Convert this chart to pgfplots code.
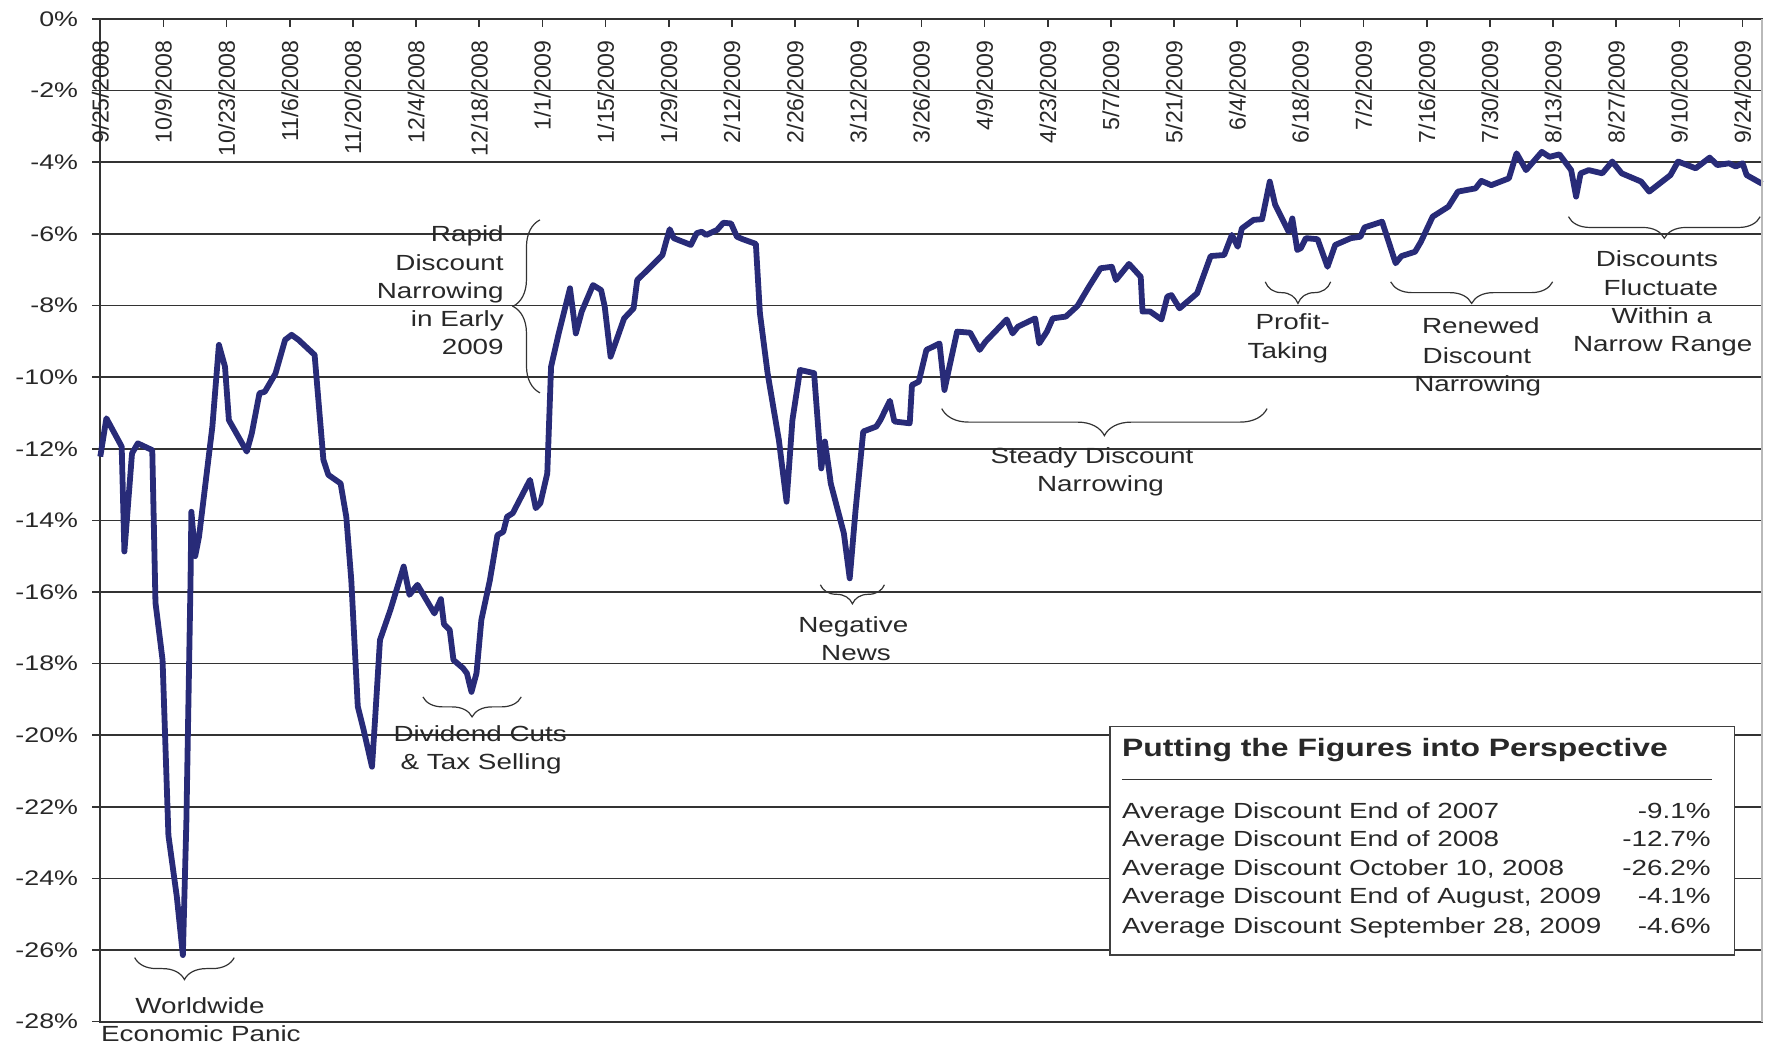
\documentclass[border=0pt]{standalone}
\usepackage{fontspec}
\setmainfont{Liberation Sans}[FakeStretch=1.27]
\newfontfamily\tickfont{Liberation Sans}
\usepackage{pgfplots}
\pgfplotsset{compat=1.18}
\usetikzlibrary{decorations.pathreplacing}
\definecolor{navy}{RGB}{40,43,120}
\definecolor{txt}{RGB}{40,40,40}
\newcommand\annfont{\fontsize{11}{13}\selectfont}
\begin{document}
\begin{tikzpicture}
\begin{axis}[
  width=830.85bp, height=501.35bp, scale only axis,
  xmin=0, xmax=368.3, ymin=-28, ymax=0,
  clip=false,
  axis line style={draw=black!80, line width=0.9bp},
  xtick={0,14,...,364},
  xticklabels={9/25/2008,10/9/2008,10/23/2008,11/6/2008,11/20/2008,12/4/2008,12/18/2008,1/1/2009,1/15/2009,1/29/2009,2/12/2009,2/26/2009,3/12/2009,3/26/2009,4/9/2009,4/23/2009,5/7/2009,5/21/2009,6/4/2009,6/18/2009,7/2/2009,7/16/2009,7/30/2009,8/13/2009,8/27/2009,9/10/2009,9/24/2009},
  xtick pos=right, xticklabel pos=right,
  xtick align=inside,
  ytick={-28,-26,...,0},
  yticklabels={-28\%,-26\%,-24\%,-22\%,-20\%,-18\%,-16\%,-14\%,-12\%,-10\%,-8\%,-6\%,-4\%,-2\%,0\%},
  ytick pos=left, ytick align=outside,
  major tick length=4bp,
  tick style={black!80, line width=0.8bp},
  ymajorgrids, grid style={black!80, line width=0.8bp},
  xticklabel style={font=\tickfont\fontsize{11.6}{13}\selectfont, text=txt, yshift=-10.5bp, rotate=90, anchor=east, inner sep=0pt},
  yticklabel style={font=\fontsize{10.6}{12}\selectfont, text=txt, inner sep=0pt, xshift=-6.9bp},
]
\addplot[color=navy, line width=2.9bp, line join=round, mark=none] coordinates {
(0,-12.22) (1.35,-11.15) (4.74,-11.94) (5.34,-14.87) (7.03,-12.13) (8.31,-11.85) (11.52,-12.04) (12.23,-16.3) (13.8,-17.9) (15.1,-22.8) (16.95,-24.5) (18.3,-26.14) (19.08,-22.4) (20.0,-15.7) (20.19,-13.76) (21.03,-15.0) (21.88,-14.46) (24.84,-11.38) (26.29,-9.1) (27.64,-9.71) (28.5,-11.2) (32.47,-12.08) (33.58,-11.57) (35.28,-10.45) (36.46,-10.41) (38.83,-9.9) (40.96,-8.96) (42.4,-8.82) (43.93,-8.96) (47.5,-9.38) (49.45,-12.31) (50.55,-12.73) (53.26,-12.97) (54.52,-13.9) (55.63,-15.67) (57.07,-19.2) (58.36,-19.85) (60.22,-20.88) (60.88,-19.6) (61.99,-17.34) (64.3,-16.5) (67.24,-15.29) (68.53,-16.08) (70.3,-15.8) (74.05,-16.6) (75.49,-16.2) (76.17,-16.9) (77.44,-17.06) (78.28,-17.9) (80.41,-18.13) (81.25,-18.27) (82.27,-18.79) (83.38,-18.27) (84.46,-16.78) (86.35,-15.67) (88.03,-14.41) (89.32,-14.32) (90.16,-13.9) (91.42,-13.8) (95.24,-12.87) (96.52,-13.66) (97.54,-13.52) (99.07,-12.69) (99.91,-9.71) (101.6,-8.78) (104.1,-7.52) (105.4,-8.78) (106.7,-8.17) (109.2,-7.43) (111.0,-7.57) (111.8,-8.03) (113.1,-9.43) (116.1,-8.36) (118.2,-8.08) (119.0,-7.29) (122.8,-6.82) (124.6,-6.59) (125.4,-6.22) (126.2,-5.87) (127.1,-6.12) (130.9,-6.31) (132.2,-5.98) (133.3,-5.94) (134.3,-6.03) (136.7,-5.89) (138.1,-5.69) (139.8,-5.71) (141.1,-6.08) (142.4,-6.15) (145.3,-6.28) (146.2,-8.22) (147.9,-9.89) (150.4,-11.76) (152.1,-13.48) (153.4,-11.2) (155.1,-9.8) (158.2,-9.89) (159.8,-12.55) (160.6,-11.8) (161.5,-12.59) (161.9,-12.97) (164.8,-14.36) (166.1,-15.62) (167.4,-13.71) (169.1,-11.52) (172.0,-11.38) (172.9,-11.2) (175.0,-10.66) (176.0,-11.24) (179.4,-11.29) (179.9,-10.22) (181.4,-10.13) (183.1,-9.24) (186.0,-9.06) (187.1,-10.36) (188.2,-9.71) (189.9,-8.73) (192.8,-8.76) (194.9,-9.24) (196.2,-9.01) (200.9,-8.39) (202.2,-8.78) (203.4,-8.59) (207.2,-8.36) (208.1,-9.06) (209.8,-8.73) (211.1,-8.36) (214.0,-8.31) (216.6,-8.01) (219.1,-7.48) (221.7,-6.96) (224.2,-6.92) (225.1,-7.29) (228.0,-6.84) (230.6,-7.2) (231.0,-8.17) (232.7,-8.17) (235.2,-8.39) (236.5,-7.75) (237.4,-7.71) (239.2,-8.08) (243.1,-7.66) (246.1,-6.62) (249.1,-6.59) (250.8,-6.03) (252.1,-6.36) (253.0,-5.85) (255.6,-5.61) (257.5,-5.59) (259.2,-4.54) (260.4,-5.19) (263.4,-5.94) (264.2,-5.57) (265.3,-6.45) (266.1,-6.4) (267.2,-6.12) (269.8,-6.15) (272.0,-6.92) (273.7,-6.31) (277.2,-6.12) (279.3,-6.08) (280.2,-5.82) (284.1,-5.66) (287.1,-6.82) (288.4,-6.62) (291.4,-6.5) (292.7,-6.22) (295.3,-5.52) (298.8,-5.24) (300.9,-4.82) (304.8,-4.73) (306.1,-4.52) (308.3,-4.64) (312.2,-4.45) (313.9,-3.75) (316.0,-4.22) (319.5,-3.71) (321.2,-3.85) (323.4,-3.78) (326.0,-4.22) (327.1,-4.96) (328.1,-4.31) (329.9,-4.22) (332.9,-4.31) (335.1,-3.98) (337.2,-4.31) (341.5,-4.54) (343.3,-4.82) (348.0,-4.36) (349.7,-3.98) (353.6,-4.17) (356.7,-3.87) (358.4,-4.08) (361.0,-4.03) (362.5,-4.12) (364.0,-4.03) (364.9,-4.36) (368.3,-4.6)
};
% right border
\draw[gray!55, line width=1.2bp] (rel axis cs:1,0) -- (rel axis cs:1,1);
% braces
\begin{scope}[black!80, line width=0.6bp]
\draw[decorate, decoration={brace, amplitude=13.5bp}] (axis cs:97.45,-10.44) -- (axis cs:97.45,-5.61);
\draw[decorate, decoration={brace, amplitude=11bp}] (axis cs:29.68,-26.21) -- (axis cs:7.62,-26.21);
\draw[decorate, decoration={brace, amplitude=10bp}] (axis cs:93.3,-18.93) -- (axis cs:71.5,-18.93);
\draw[decorate, decoration={brace, amplitude=9.5bp}] (axis cs:173.8,-15.8) -- (axis cs:159.6,-15.8);
\draw[decorate, decoration={brace, amplitude=13.5bp}] (axis cs:258.6,-10.88) -- (axis cs:186.5,-10.88);
\draw[decorate, decoration={brace, amplitude=10.8bp}] (axis cs:272.7,-7.34) -- (axis cs:258.2,-7.34);
\draw[decorate, decoration={brace, amplitude=10.8bp}] (axis cs:321.9,-7.34) -- (axis cs:286.0,-7.34);
\draw[decorate, decoration={brace, amplitude=10.8bp}] (axis cs:367.9,-5.52) -- (axis cs:325.4,-5.52);
\end{scope}
% annotation texts
\begin{scope}[every node/.style={font=\annfont, text=txt, inner sep=0pt}]
\node[anchor=base east] at (axis cs:89.5,-6.22) {Rapid};
\node[anchor=base east] at (axis cs:89.5,-7.01) {Discount};
\node[anchor=base east] at (axis cs:89.5,-7.80) {Narrowing};
\node[anchor=base east] at (axis cs:89.5,-8.59) {in Early};
\node[anchor=base east] at (axis cs:89.5,-9.38) {2009};
\node[anchor=base] at (axis cs:22.1,-27.76) {Worldwide};
\node[anchor=base] at (axis cs:22.3,-28.56) {Economic Panic};
\node[anchor=base] at (axis cs:84.2,-20.18) {Dividend Cuts};
\node[anchor=base] at (axis cs:84.4,-20.97) {\& Tax Selling};
\node[anchor=base] at (axis cs:166.9,-17.13) {Negative};
\node[anchor=base] at (axis cs:167.5,-17.92) {News};
\node[anchor=base] at (axis cs:219.8,-12.41) {Steady Discount};
\node[anchor=base] at (axis cs:221.7,-13.2) {Narrowing};
\node[anchor=base] at (axis cs:264.3,-8.68) {Profit-};
\node[anchor=base] at (axis cs:263.2,-9.48) {Taking};
\node[anchor=base] at (axis cs:306.0,-8.78) {Renewed};
\node[anchor=base] at (axis cs:305.1,-9.61) {Discount};
\node[anchor=base] at (axis cs:305.3,-10.41) {Narrowing};
\node[anchor=base] at (axis cs:345.0,-6.92) {Discounts};
\node[anchor=base] at (axis cs:345.9,-7.71) {Fluctuate};
\node[anchor=base] at (axis cs:346.1,-8.5) {Within a};
\node[anchor=base] at (axis cs:346.3,-9.29) {Narrow Range};
\end{scope}
% info box
\draw[fill=white, draw=black!75, line width=0.75bp] (axis cs:223.8,-19.76) rectangle (axis cs:362.2,-26.14);
\draw[black!80, line width=0.6bp] (axis cs:226.4,-21.23) -- (axis cs:357.2,-21.23);
\begin{scope}[every node/.style={font=\annfont, text=txt, inner sep=0pt}]
\node[anchor=base west, font=\fontsize{12.6}{14}\selectfont\bfseries] at (axis cs:226.4,-20.6) {Putting the Figures into Perspective};
\node[anchor=base west] at (axis cs:226.4,-22.32) {Average Discount End of 2007};
\node[anchor=base west] at (axis cs:226.4,-23.11) {Average Discount End of 2008};
\node[anchor=base west] at (axis cs:226.4,-23.93) {Average Discount October 10, 2008};
\node[anchor=base west] at (axis cs:226.4,-24.71) {Average Discount End of August, 2009};
\node[anchor=base west] at (axis cs:226.4,-25.53) {Average Discount September 28, 2009};
\node[anchor=base east] at (axis cs:357.0,-22.32) {-9.1\%};
\node[anchor=base east] at (axis cs:357.0,-23.11) {-12.7\%};
\node[anchor=base east] at (axis cs:357.0,-23.93) {-26.2\%};
\node[anchor=base east] at (axis cs:357.0,-24.71) {-4.1\%};
\node[anchor=base east] at (axis cs:357.0,-25.53) {-4.6\%};
\end{scope}
\end{axis}
\pgfresetboundingbox
\path (-50.15bp,-12.15bp) rectangle (835.35bp,510.85bp);
\end{tikzpicture}
\end{document}
